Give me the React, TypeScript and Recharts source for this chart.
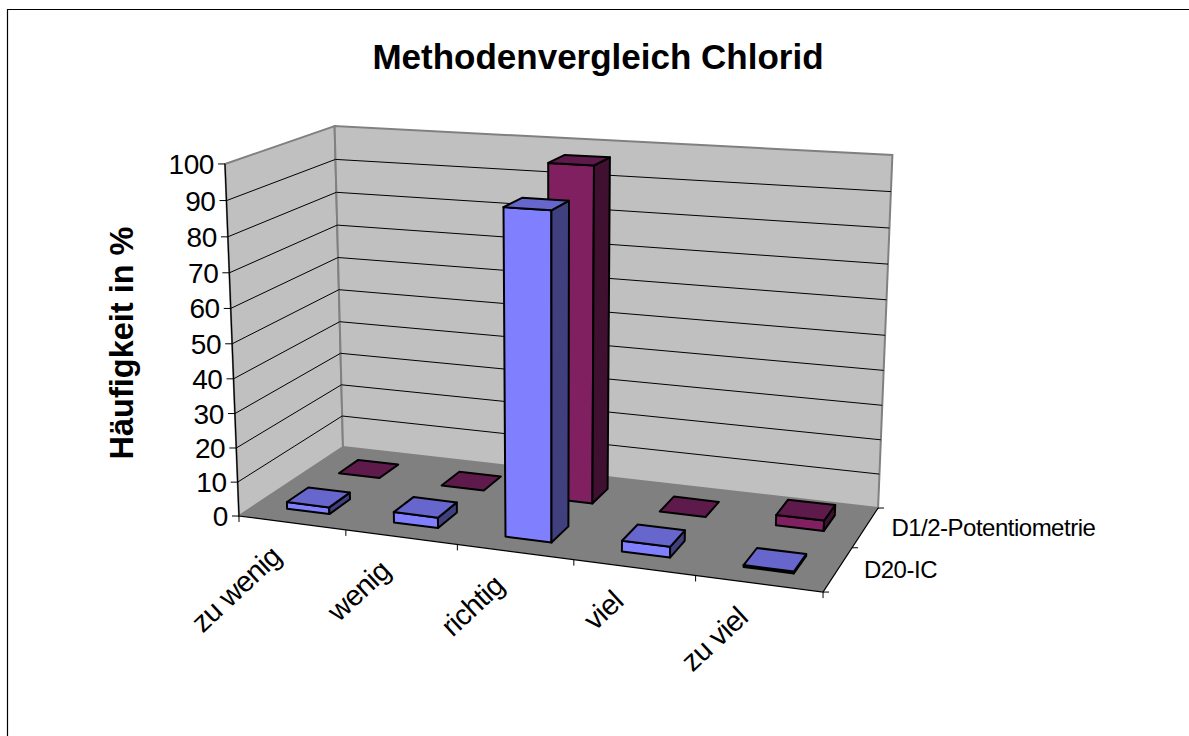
import React from 'react';
import { BarChart, Bar, XAxis, YAxis, CartesianGrid, Customized } from 'recharts';

const categories = ['zu wenig', 'wenig', 'richtig', 'viel', 'zu viel'];
const d20Values = [2, 3, 91, 3, 0.5];
const d12Values = [0, 0, 97, 0, 3];
const yTicks = [0, 10, 20, 30, 40, 50, 60, 70, 80, 90, 100];
const seriesNames = ['D20-IC', 'D1/2-Potentiometrie'];

const data = categories.map((name, i) => ({ name, d20: d20Values[i], d12: d12Values[i] }));

const FONT = '"Liberation Sans", Arial, sans-serif';

// flat plot area the library scales work in, it gets projected onto the 3d box
const PLOT = { x: 100, y: 100, w: 900, h: 500 };
const BAR_W = 72;

type Pt = [number, number];

// camera read off the box corners: floor corners give the u/v part,
// the wall heights and the lean of the verticals give the w part
const ORIGIN: Pt = [239, 516];
const U_AXIS: Pt = [498.2, 14.3];
const V_AXIS: Pt = [139.1, -23.3];
const W_AXIS: Pt = [-23.5, -359];
const Q = { u: -0.1043, v: 0.1023, w: -0.0424 };

// u along categories, v depth, w height (all 0..1)
const project = (u: number, v: number, w: number): Pt => {
    const q = Q.u * u + Q.v * v + Q.w * w + 1;
    return [
        (U_AXIS[0] * u + V_AXIS[0] * v + W_AXIS[0] * w + ORIGIN[0]) / q,
        (U_AXIS[1] * u + V_AXIS[1] * v + W_AXIS[1] * w + ORIGIN[1]) / q,
    ];
};

const toU = (x: number) => (x - PLOT.x) / PLOT.w;
const toW = (y: number) => (PLOT.y + PLOT.h - y) / PLOT.h;
const pts = (list: Pt[]) => list.map((p) => p.map((n) => n.toFixed(1)).join(',')).join(' ');

const Box3D = (props: any) => {
    const { x, y, width, height, row, front, top, side } = props;
    const u0 = toU(x), u1 = toU(x + width);
    const v0 = row * 0.5 + 0.15, v1 = row * 0.5 + 0.35;
    const w1 = toW(y), w0 = toW(y + height);
    const common = { stroke: '#000', strokeWidth: 2, strokeLinejoin: 'round' as const };
    return (
        <g>
            {height > 0 && (
                <>
                    <polygon points={pts([project(u0, v0, w0), project(u1, v0, w0), project(u1, v0, w1), project(u0, v0, w1)])} fill={front} {...common} />
                    <polygon points={pts([project(u1, v0, w0), project(u1, v1, w0), project(u1, v1, w1), project(u1, v0, w1)])} fill={side} {...common} />
                </>
            )}
            <polygon points={pts([project(u0, v0, w1), project(u1, v0, w1), project(u1, v1, w1), project(u0, v1, w1)])} fill={top} {...common} />
        </g>
    );
};

const Walls = () => {
    const wall = { fill: '#C0C0C0', stroke: '#808080', strokeWidth: 2 };
    return (
        <g>
            <polyline points="7.5,736 7.5,9.5 1189,9.5" fill="none" stroke="#000" strokeWidth={1.2} />
            <text x={598} y={69} textAnchor="middle" fontFamily={FONT} fontWeight="bold" fontSize={35} fill="#000">
                Methodenvergleich Chlorid
            </text>
            <text transform="translate(133,343) rotate(-90)" textAnchor="middle" fontFamily={FONT} fontWeight="bold" fontSize={32.5} fill="#000">
                Häufigkeit in %
            </text>
            <polygon points={pts([project(0, 0, 0), project(0, 1, 0), project(0, 1, 1), project(0, 0, 1)])} {...wall} />
            <polygon points={pts([project(0, 1, 0), project(1, 1, 0), project(1, 1, 1), project(0, 1, 1)])} {...wall} />
            <polygon points={pts([project(0, 0, 0), project(1, 0, 0), project(1, 1, 0), project(0, 1, 0)])} fill="#808080" />
            <polyline points={pts([project(0, 0, 1), project(0, 0, 0), project(1, 0, 0), project(1, 1, 0)])} fill="none" stroke="#000" strokeWidth={1.2} />
            {seriesNames.map((name, i) => {
                const v = i * 0.5 + 0.25;
                const [px, py] = project(1, v, 0);
                return (
                    <text key={name} x={px + 26} y={py + 9} fontFamily={FONT} fontSize={24} letterSpacing={-0.5} fill="#000">
                        {name}
                    </text>
                );
            })}
            {[0, 0.5, 1].map((v) => {
                const [px, py] = project(1, v, 0);
                return <line key={v} x1={px} y1={py} x2={px + 6} y2={py} stroke="#000" strokeWidth={1} />;
            })}
        </g>
    );
};

const GridLine = (props: any) => {
    const w = toW(props.y1);
    if (w < 0.001 || w > 0.999) return <g key={props.key} />;
    const a = project(0, 0, w), b = project(0, 1, w), c = project(1, 1, w);
    return <polyline key={props.key} points={pts([a, b, c])} fill="none" stroke="#000" strokeWidth={1} />;
};

const YTick = (props: any) => {
    const { y, payload } = props;
    const [px, py] = project(0, 0, toW(y));
    return (
        <g>
            <line x1={px - 7} y1={py} x2={px} y2={py} stroke="#000" strokeWidth={1} />
            <text x={px - 11} y={py + 10} textAnchor="end" fontFamily={FONT} fontSize={28} letterSpacing={-0.4} fill="#000">
                {payload.value}
            </text>
        </g>
    );
};

const XTick = (props: any) => {
    const { x, payload, index } = props;
    const band = PLOT.w / categories.length;
    const [cx, cy] = project(toU(x), 0, 0);
    const left = project(toU(x - band / 2), 0, 0);
    const right = project(toU(x + band / 2), 0, 0);
    return (
        <g>
            <line x1={left[0]} y1={left[1]} x2={left[0]} y2={left[1] + 6} stroke="#000" strokeWidth={1} />
            {index === categories.length - 1 && (
                <line x1={right[0]} y1={right[1]} x2={right[0]} y2={right[1] + 6} stroke="#000" strokeWidth={1} />
            )}
            <text transform={`translate(${cx - 9},${cy + 36}) rotate(-43)`} textAnchor="end" fontFamily={FONT} fontSize={29} letterSpacing={-0.6} fill="#000">
                {payload.value}
            </text>
        </g>
    );
};

const App = () => {
    return (
        <div style={{ position: 'absolute', left: 0, top: 0, width: 1189, height: 736, background: '#fff' }}>
            <BarChart
                width={1189}
                height={736}
                data={data}
                margin={{ top: PLOT.y, left: PLOT.x - 1, right: 1189 - PLOT.x - PLOT.w, bottom: 736 - PLOT.y - PLOT.h - 1 }}
                barSize={BAR_W}
                barGap={-BAR_W}
            >
                <Customized component={<Walls />} />
                <CartesianGrid vertical={false} horizontal={GridLine} zIndex={10} />
                <XAxis dataKey="name" height={1} axisLine={false} tickLine={false} interval={0} tick={XTick} />
                <YAxis width={1} domain={[0, 100]} ticks={yTicks} axisLine={false} tickLine={false} tick={YTick} />
                <Bar
                    dataKey="d12"
                    isAnimationActive={false}
                    shape={(p: any) => <Box3D {...p} row={1} front="#802060" top="#5F1A4C" side="#401030" />}
                />
                <Bar
                    dataKey="d20"
                    isAnimationActive={false}
                    shape={(p: any) => <Box3D {...p} row={0} front="#8080FF" top="#6666CC" side="#40407F" />}
                />
            </BarChart>
        </div>
    );
};

export default App;
